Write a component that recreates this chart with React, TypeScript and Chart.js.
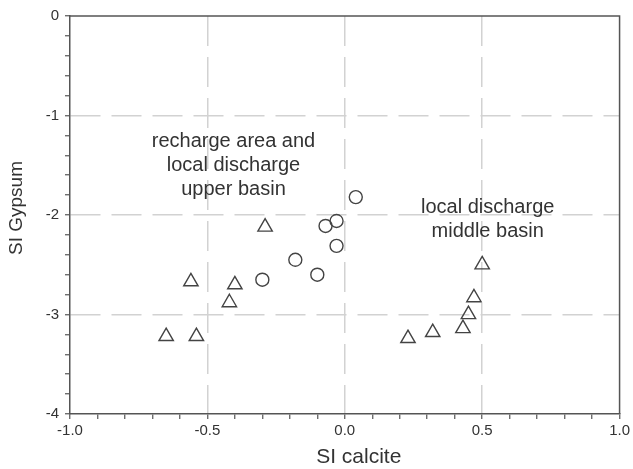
import React, { useEffect, useRef } from "react";
import { Chart, registerables } from "chart.js";

Chart.register(...registerables);

// SI calcite (x) and SI Gypsum (y)
const triangleX = [-0.65, -0.54, -0.56, -0.40, -0.42, -0.29, 0.23, 0.32, 0.43, 0.45, 0.47, 0.50];
const triangleY = [-3.22, -3.22, -2.67, -2.70, -2.88, -2.12, -3.24, -3.18, -3.14, -3.00, -2.83, -2.50];
const circleX = [0.04, -0.03, -0.07, -0.03, -0.10, -0.18, -0.30];
const circleY = [-1.82, -2.06, -2.11, -2.31, -2.60, -2.45, -2.65];

const xTitle = "SI calcite";
const yTitle = "SI Gypsum";
const leftNote = ["recharge area and", "local discharge", "upper basin"];
const rightNote = ["local discharge", "middle basin"];
const leftNoteAt = { x: -0.405, y: -1.26 };
const rightNoteAt = { x: 0.52, y: -1.92 };

const FONT = "'Liberation Sans', Arial, sans-serif";
const AXIS_COLOR = "#555";
const TEXT_COLOR = "#333";

const isMajor = (v: number, step: number) => Math.abs(v / step - Math.round(v / step)) < 1e-6;

export default function App() {
  const ref = useRef<HTMLCanvasElement | null>(null);

  useEffect(() => {
    if (!ref.current) return;

    const framePlugin = {
      id: "frameAndNotes",
      afterDraw(chart: any) {
        const { ctx, chartArea } = chart;
        ctx.save();
        ctx.strokeStyle = AXIS_COLOR;
        ctx.lineWidth = 1.5;
        ctx.beginPath();
        ctx.moveTo(chartArea.left, chartArea.top);
        ctx.lineTo(chartArea.right, chartArea.top);
        ctx.lineTo(chartArea.right, chartArea.bottom);
        ctx.stroke();

        const xs = chart.scales.x;
        const ys = chart.scales.y;
        ctx.fillStyle = TEXT_COLOR;
        ctx.font = `20px ${FONT}`;
        ctx.textAlign = "center";
        ctx.textBaseline = "middle";
        const drawNote = (lines: string[], at: { x: number; y: number }) => {
          const cx = xs.getPixelForValue(at.x);
          const cy = ys.getPixelForValue(at.y);
          lines.forEach((l, i) => ctx.fillText(l, cx, cy + i * 24));
        };
        drawNote(leftNote, leftNoteAt);
        drawNote(rightNote, rightNoteAt);

        // axis titles
        ctx.font = `21px ${FONT}`;
        ctx.fillText(xTitle, (chartArea.left + chartArea.right) / 2 + 14, chartArea.bottom + 43);
        ctx.save();
        ctx.translate(17, (chartArea.top + chartArea.bottom) / 2 - 7);
        ctx.rotate(-Math.PI / 2);
        ctx.font = `19px ${FONT}`;
        ctx.fillText(yTitle, 0, 0);
        ctx.restore();
        ctx.restore();
      },
    };

    const chart = new Chart(ref.current, {
      type: "scatter",
      data: {
        datasets: [
          {
            label: "triangles",
            data: triangleX.map((x, i) => ({ x, y: triangleY[i] })),
            pointStyle: "triangle",
            pointRadius: 8.3,
            pointHoverRadius: 8.3,
            borderColor: "#444",
            backgroundColor: "rgba(255,255,255,0)",
            pointBorderWidth: 1.4,
          },
          {
            label: "circles",
            data: circleX.map((x, i) => ({ x, y: circleY[i] })),
            pointStyle: "circle",
            pointRadius: 6.5,
            pointHoverRadius: 6.5,
            borderColor: "#444",
            backgroundColor: "rgba(255,255,255,0)",
            pointBorderWidth: 1.4,
          },
        ],
      },
      options: {
        animation: false,
        responsive: true,
        maintainAspectRatio: false,
        layout: { padding: { top: 16, right: 12, left: 0, bottom: 0 } },
        plugins: {
          legend: { display: false },
          tooltip: { enabled: false },
        },
        scales: {
          x: {
            type: "linear",
            min: -1,
            max: 1,
            afterFit: (s: any) => {
              s.height = 55;
            },
            ticks: {
              stepSize: 0.1,
              autoSkip: false,
              maxRotation: 0,
              padding: 3,
              color: TEXT_COLOR,
              font: { family: FONT, size: 15 },
              callback: (v: any) => (isMajor(Number(v), 0.5) ? Number(v).toFixed(1) : ""),
            },
            grid: {
              color: (c: any) => {
                const v = c.tick ? c.tick.value : NaN;
                return isMajor(v, 0.5) && Math.abs(v) < 0.99 ? "#d2d2d2" : "rgba(0,0,0,0)";
              },
              lineWidth: 1.5,
              tickColor: AXIS_COLOR,
              tickLength: 5,
              tickWidth: 1.2,
            },
            border: { display: true, color: AXIS_COLOR, width: 1.5, dash: [30, 11] },
            title: { display: false, text: xTitle },
          },
          y: {
            type: "linear",
            min: -4,
            max: 0,
            afterFit: (s: any) => {
              s.width = 70;
            },
            ticks: {
              stepSize: 0.2,
              autoSkip: false,
              padding: 6,
              color: TEXT_COLOR,
              font: { family: FONT, size: 15 },
              callback: (v: any) => (isMajor(Number(v), 1) ? String(Math.round(Number(v)) || 0) : ""),
            },
            grid: {
              color: (c: any) => {
                const v = c.tick ? c.tick.value : NaN;
                return isMajor(v, 1) && v < -0.01 && v > -3.99 ? "#d2d2d2" : "rgba(0,0,0,0)";
              },
              lineWidth: 1.5,
              tickColor: AXIS_COLOR,
              tickLength: 5,
              tickWidth: 1.2,
            },
            border: { display: true, color: AXIS_COLOR, width: 1.5, dash: [30, 11] },
            title: { display: false, text: yTitle },
          },
        },
      },
      plugins: [framePlugin],
    } as any);

    return () => chart.destroy();
  }, []);

  return (
    <div style={{ position: "absolute", left: 0, top: 0, width: 633, height: 469, background: "#fff" }}>
      <canvas ref={ref} />
    </div>
  );
}
